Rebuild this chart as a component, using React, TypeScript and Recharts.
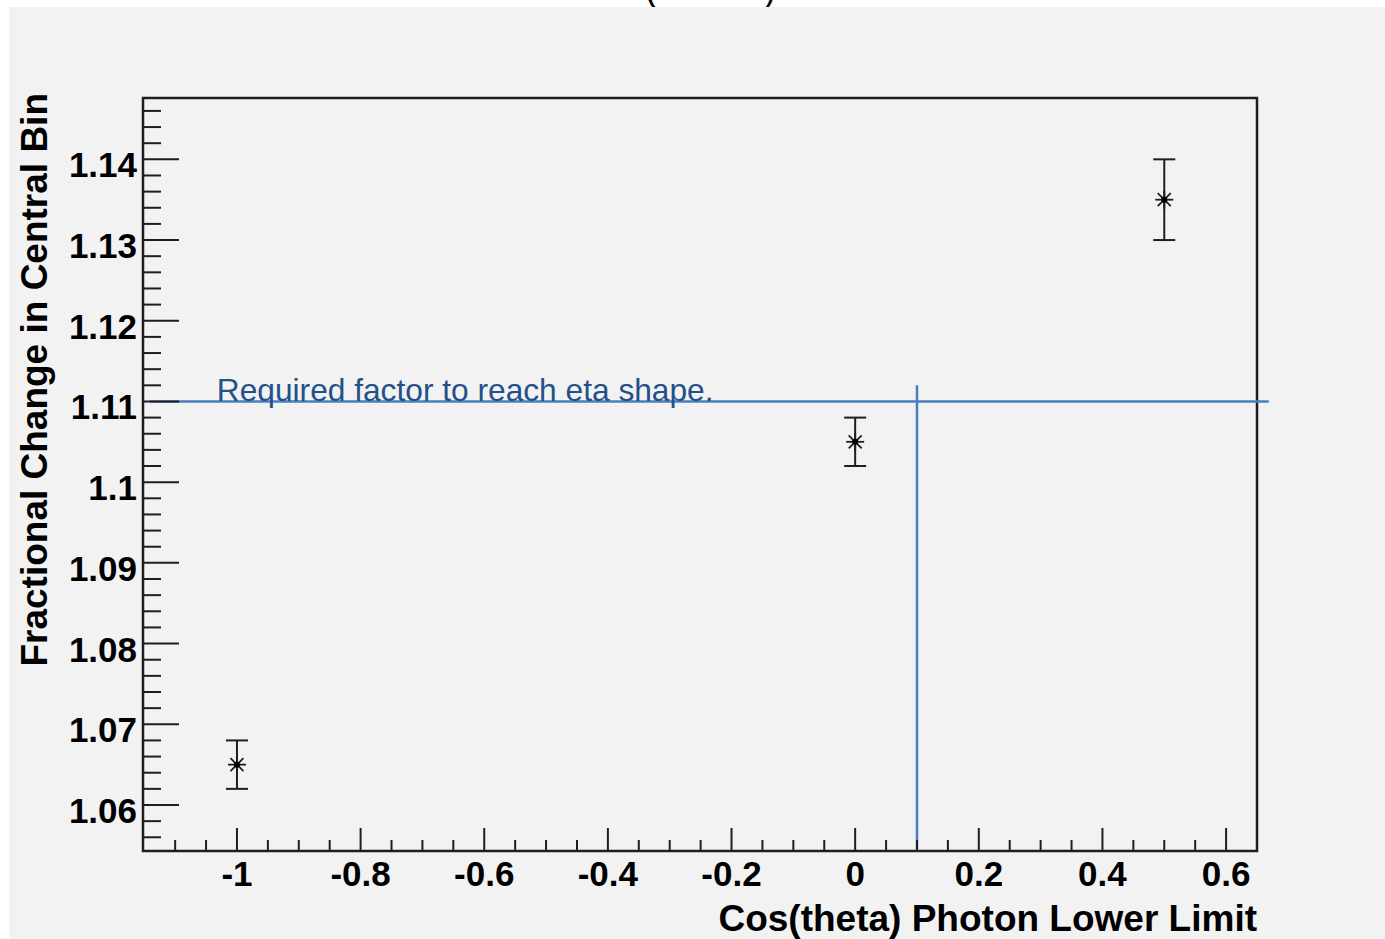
import { ScatterChart, Scatter, XAxis, YAxis, ErrorBar, ReferenceLine, ReferenceArea } from 'recharts';

// measured points: lower cos(theta) cut vs. change in the central bin
const cosThetaLimit = [-1, 0, 0.5];
const fractionalChange = [1.065, 1.105, 1.135];
const changeError = [0.003, 0.003, 0.005];

const X_TICKS = [
  -1.1, -1.05, -1, -0.95, -0.9, -0.85, -0.8, -0.75, -0.7, -0.65, -0.6, -0.55, -0.5, -0.45, -0.4,
  -0.35, -0.3, -0.25, -0.2, -0.15, -0.1, -0.05, 0, 0.05, 0.1, 0.15, 0.2, 0.25, 0.3, 0.35, 0.4,
  0.45, 0.5, 0.55, 0.6,
];
const X_LABELS = [-1, -0.8, -0.6, -0.4, -0.2, 0, 0.2, 0.4, 0.6];

const Y_TICKS = [
  1.056, 1.058, 1.06, 1.062, 1.064, 1.066, 1.068, 1.07, 1.072, 1.074, 1.076, 1.078, 1.08, 1.082,
  1.084, 1.086, 1.088, 1.09, 1.092, 1.094, 1.096, 1.098, 1.1, 1.102, 1.104, 1.106, 1.108, 1.11,
  1.112, 1.114, 1.116, 1.118, 1.12, 1.122, 1.124, 1.126, 1.128, 1.13, 1.132, 1.134, 1.136, 1.138,
  1.14, 1.142, 1.144, 1.146,
];
const Y_LABELS = [1.06, 1.07, 1.08, 1.09, 1.1, 1.11, 1.12, 1.13, 1.14];

const X_DOMAIN: [number, number] = [-1.152, 0.65];
const Y_DOMAIN: [number, number] = [1.0543, 1.1476];

// hand-drawn annotation (data units)
const REQUIRED_FACTOR = 1.11;
const REQUIRED_LINE_X: [number, number] = [-1.141, 0.669];
const CUT_X = 0.1;
const CUT_TOP = 1.112;
const NOTE = 'Required factor to reach eta shape.';

const data = cosThetaLimit.map((x, i) => ({ x, y: fractionalChange[i], err: changeError[i] }));

const FONT = '"Liberation Sans", Arial, Helvetica, sans-serif';
const INK = '#1e1e1e';
const BLUE = '#4a7ebb';

function XTick(props: any) {
  const { x, y, payload } = props;
  const major = X_LABELS.includes(payload.value);
  return (
    <g>
      <line x1={x} y1={y} x2={x} y2={y - (major ? 23 : 11)} stroke={INK} strokeWidth={2} />
      {major && (
        <text x={x} y={y + 35} textAnchor="middle" fontFamily={FONT} fontWeight="bold" fontSize={35} fill="#000">
          {payload.value}
        </text>
      )}
    </g>
  );
}

function YTick(props: any) {
  const { x, y, payload } = props;
  const major = Y_LABELS.includes(payload.value);
  return (
    <g>
      <line x1={x} y1={y} x2={x + (major ? 36 : 18)} y2={y} stroke={INK} strokeWidth={2} />
      {major && (
        <text x={x - 6} y={y + 18} textAnchor="end" fontFamily={FONT} fontWeight="bold" fontSize={35} fill="#000">
          {payload.value}
        </text>
      )}
    </g>
  );
}

function Star(props: any) {
  const { cx, cy } = props;
  const r = 9;
  const d = 6.5;
  return (
    <g stroke={INK} strokeWidth={1.8}>
      <line x1={cx - r} y1={cy} x2={cx + r} y2={cy} />
      <line x1={cx} y1={cy - r} x2={cx} y2={cy + r} />
      <line x1={cx - d} y1={cy - d} x2={cx + d} y2={cy + d} />
      <line x1={cx - d} y1={cy + d} x2={cx + d} y2={cy - d} />
      <circle cx={cx} cy={cy} r={3} fill="#000" stroke="none" />
    </g>
  );
}

export default function App() {
  return (
    <div style={{ position: 'absolute', left: 0, top: 0, width: 1385, height: 939, background: '#fff', overflow: 'hidden' }}>
      <svg width={1385} height={20} style={{ position: 'absolute', left: 0, top: 0 }}>
        <text x={645} y={1} fontFamily={FONT} fontSize={36} fill="#000">(</text>
        <text x={764} y={1} fontFamily={FONT} fontSize={36} fill="#000">)</text>
      </svg>
      <div style={{ position: 'absolute', left: 9, top: 7, width: 1376, height: 932, background: '#f2f2f2' }} />
      <div style={{ position: 'absolute', left: 0, top: 0 }}>
        <ScatterChart width={1385} height={939} margin={{ top: 98, right: 128, bottom: 0, left: 0 }}>
          <XAxis
            type="number"
            dataKey="x"
            domain={X_DOMAIN}
            ticks={X_TICKS}
            interval={0}
            allowDataOverflow
            axisLine={false}
            tickLine={false}
            tickSize={0}
            tickMargin={0}
            height={88}
            tick={<XTick />}
            label={{
              content: (p: any) => (
                <text
                  x={p.viewBox.x + p.viewBox.width}
                  y={p.viewBox.y + 80}
                  textAnchor="end"
                  fontFamily={FONT}
                  fontWeight="bold"
                  fontSize={37}
                  fill="#000"
                >
                  Cos(theta) Photon Lower Limit
                </text>
              ),
            }}
          />
          <YAxis
            type="number"
            dataKey="y"
            domain={Y_DOMAIN}
            ticks={Y_TICKS}
            interval={0}
            allowDataOverflow
            axisLine={false}
            tickLine={false}
            tickSize={0}
            tickMargin={0}
            width={143}
            tick={<YTick />}
            label={{
              content: (p: any) => (
                <text
                  x={47}
                  y={p.viewBox.y - 5}
                  transform={`rotate(-90 47 ${p.viewBox.y - 5})`}
                  textAnchor="end"
                  fontFamily={FONT}
                  fontWeight="bold"
                  fontSize={37}
                  fill="#000"
                >
                  Fractional Change in Central Bin
                </text>
              ),
            }}
          />
          <ReferenceArea
            x1={X_DOMAIN[0]}
            x2={X_DOMAIN[1]}
            y1={Y_DOMAIN[0]}
            y2={Y_DOMAIN[1]}
            fill="none"
            stroke={INK}
            strokeWidth={2.5}
            ifOverflow="visible"
          />
          <Scatter data={data} shape={<Star />} isAnimationActive={false}>
            <ErrorBar dataKey="err" direction="y" width={11} stroke={INK} strokeWidth={2} />
          </Scatter>
          <ReferenceLine
            segment={[{ x: CUT_X, y: Y_DOMAIN[0] }, { x: CUT_X, y: CUT_TOP }]}
            stroke={BLUE}
            strokeWidth={2.5}
            ifOverflow="visible"
          />
          <ReferenceLine
            segment={[{ x: REQUIRED_LINE_X[0], y: REQUIRED_FACTOR }, { x: REQUIRED_LINE_X[1], y: REQUIRED_FACTOR }]}
            stroke={BLUE}
            strokeWidth={2.5}
            ifOverflow="visible"
            label={{
              content: (p: any) => (
                <text x={p.viewBox.x + 67} y={p.viewBox.y} fontFamily={FONT} fontSize={31.7} fill="#24508a">
                  {NOTE}
                </text>
              ),
            }}
          />
        </ScatterChart>
      </div>
    </div>
  );
}
